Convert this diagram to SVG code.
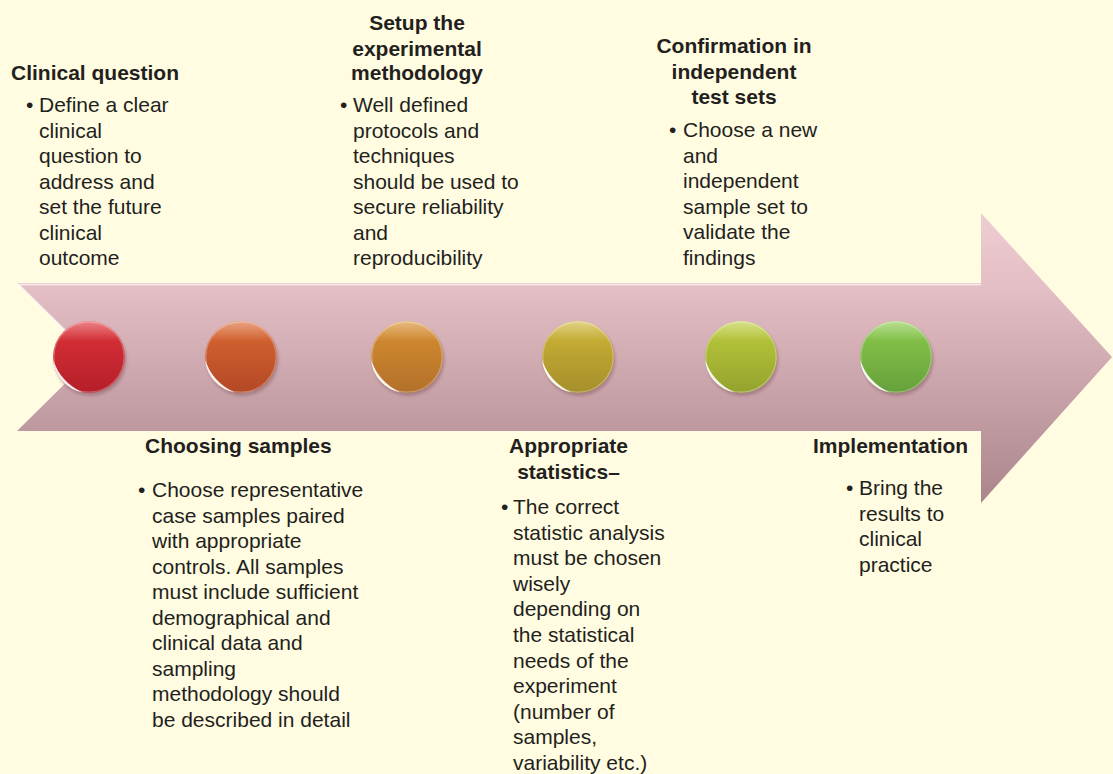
<svg xmlns="http://www.w3.org/2000/svg" xmlns:xlink="http://www.w3.org/1999/xlink" width="1113" height="774" viewBox="0 0 1113 774">
<style>
.h{font-family:"Liberation Sans",Arial,Helvetica,sans-serif;font-weight:bold;font-size:21px;fill:#231F20}
.t{font-family:"Liberation Sans",Arial,Helvetica,sans-serif;font-size:21px;fill:#231F20}
.c{text-anchor:middle}
.shadow{fill:#6e3f4a;opacity:0.35}
</style>
<defs>
<linearGradient id="arrowFill" gradientUnits="userSpaceOnUse" x1="0" y1="213" x2="0" y2="503">
<stop offset="0" stop-color="#EECDD2"/>
<stop offset="0.25" stop-color="#E4BFC5"/>
<stop offset="0.75" stop-color="#BE989F"/>
<stop offset="1" stop-color="#AC858C"/>
</linearGradient>
<linearGradient id="g1" x1="0" y1="0" x2="0" y2="1"><stop offset="0" stop-color="#DD3338"/><stop offset="1" stop-color="#B41E2A"/></linearGradient>
<linearGradient id="g2" x1="0" y1="0" x2="0" y2="1"><stop offset="0" stop-color="#DA6832"/><stop offset="1" stop-color="#B34826"/></linearGradient>
<linearGradient id="g3" x1="0" y1="0" x2="0" y2="1"><stop offset="0" stop-color="#D88F30"/><stop offset="1" stop-color="#B2702A"/></linearGradient>
<linearGradient id="g4" x1="0" y1="0" x2="0" y2="1"><stop offset="0" stop-color="#CDB536"/><stop offset="1" stop-color="#A68E2B"/></linearGradient>
<linearGradient id="g5" x1="0" y1="0" x2="0" y2="1"><stop offset="0" stop-color="#BDCC3C"/><stop offset="1" stop-color="#94A22E"/></linearGradient>
<linearGradient id="g6" x1="0" y1="0" x2="0" y2="1"><stop offset="0" stop-color="#8ACA4C"/><stop offset="1" stop-color="#66A03B"/></linearGradient>
<linearGradient id="shine" x1="0" y1="0" x2="0" y2="1">
<stop offset="0" stop-color="#fff" stop-opacity="0.4"/>
<stop offset="0.28" stop-color="#fff" stop-opacity="0"/>
</linearGradient>
<filter id="blur" x="-20%" y="-20%" width="140%" height="140%"><feGaussianBlur stdDeviation="1.6"/></filter>
<filter id="soft" x="-20%" y="-20%" width="140%" height="140%"><feGaussianBlur stdDeviation="0.5"/></filter>
<g id="gloss">
<circle r="36" fill="url(#shine)"/>
<circle r="35.2" fill="none" stroke="#fff" stroke-opacity="0.3" stroke-width="1.2"/>
<path d="M -35.9 3.1 A 36 36 0 0 0 -6.25 35.5 A 55 55 0 0 1 -35.9 3.1 Z" fill="#fff" opacity="0.9" filter="url(#soft)"/>
</g>
</defs>
<rect width="1113" height="774" fill="#FFFCE1"/>
<g id="connectors">
<path id="timeline-arrow" d="M17 283 L981 283 L981 213 L1112 357 L981 503 L981 431 L17 431 L92 357 Z" fill="url(#arrowFill)"/>
<path d="M17 284.5 L981 284.5 M18 284 L92 357" stroke="#fff" stroke-opacity="0.6" stroke-width="2" fill="none"/>
</g>
<g id="step-1" transform="translate(89,357)">
<circle class="shadow" cx="1.5" cy="3" r="36" filter="url(#blur)"/>
<circle r="36" fill="url(#g1)"/>
<use xlink:href="#gloss" href="#gloss"/>
</g>
<g id="step-2" transform="translate(241,357)">
<circle class="shadow" cx="1.5" cy="3" r="36" filter="url(#blur)"/>
<circle r="36" fill="url(#g2)"/>
<use xlink:href="#gloss" href="#gloss"/>
</g>
<g id="step-3" transform="translate(407,357)">
<circle class="shadow" cx="1.5" cy="3" r="36" filter="url(#blur)"/>
<circle r="36" fill="url(#g3)"/>
<use xlink:href="#gloss" href="#gloss"/>
</g>
<g id="step-4" transform="translate(578,357)">
<circle class="shadow" cx="1.5" cy="3" r="36" filter="url(#blur)"/>
<circle r="36" fill="url(#g4)"/>
<use xlink:href="#gloss" href="#gloss"/>
</g>
<g id="step-5" transform="translate(741,357)">
<circle class="shadow" cx="1.5" cy="3" r="36" filter="url(#blur)"/>
<circle r="36" fill="url(#g5)"/>
<use xlink:href="#gloss" href="#gloss"/>
</g>
<g id="step-6" transform="translate(896,357)">
<circle class="shadow" cx="1.5" cy="3" r="36" filter="url(#blur)"/>
<circle r="36" fill="url(#g6)"/>
<use xlink:href="#gloss" href="#gloss"/>
</g>
<g id="label-clinical-question">
<text class="h" x="11" y="80">Clinical question</text>
<text class="t" x="26" y="112">•</text>
<text class="t"><tspan x="39" y="112">Define a clear</tspan><tspan x="39" y="137.5">clinical</tspan><tspan x="39" y="163">question to</tspan><tspan x="39" y="188.5">address and</tspan><tspan x="39" y="214">set the future</tspan><tspan x="39" y="239.5">clinical</tspan><tspan x="39" y="265">outcome</tspan></text>
</g>
<g id="label-setup">
<text class="h c"><tspan x="417" y="30">Setup the</tspan><tspan x="417" y="55.5">experimental</tspan><tspan x="417" y="80">methodology</tspan></text>
<text class="t" x="340" y="112">•</text>
<text class="t"><tspan x="353" y="112">Well defined</tspan><tspan x="353" y="137.5">protocols and</tspan><tspan x="353" y="163">techniques</tspan><tspan x="353" y="188.5">should be used to</tspan><tspan x="353" y="214">secure reliability</tspan><tspan x="353" y="239.5">and</tspan><tspan x="353" y="265">reproducibility</tspan></text>
</g>
<g id="label-confirmation">
<text class="h c"><tspan x="734" y="53">Confirmation in</tspan><tspan x="734" y="79">independent</tspan><tspan x="734" y="104">test sets</tspan></text>
<text class="t" x="669" y="137">•</text>
<text class="t"><tspan x="683" y="137">Choose a new</tspan><tspan x="683" y="162.6">and</tspan><tspan x="683" y="188.2">independent</tspan><tspan x="683" y="213.8">sample set to</tspan><tspan x="683" y="239.4">validate the</tspan><tspan x="683" y="265">findings</tspan></text>
</g>
<g id="label-choosing-samples">
<text class="h" x="145" y="453">Choosing samples</text>
<text class="t" x="138" y="497">•</text>
<text class="t"><tspan x="152" y="497">Choose representative</tspan><tspan x="152" y="522.5">case samples paired</tspan><tspan x="152" y="548">with appropriate</tspan><tspan x="152" y="573.5">controls. All samples</tspan><tspan x="152" y="599">must include sufficient</tspan><tspan x="152" y="624.5">demographical and</tspan><tspan x="152" y="650">clinical data and</tspan><tspan x="152" y="675.5">sampling</tspan><tspan x="152" y="701">methodology should</tspan><tspan x="152" y="726.5">be described in detail</tspan></text>
</g>
<g id="label-statistics">
<text class="h c"><tspan x="568.5" y="453">Appropriate</tspan><tspan x="568.5" y="479">statistics–</tspan></text>
<text class="t" x="501" y="514">•</text>
<text class="t"><tspan x="513" y="514">The correct</tspan><tspan x="513" y="539.6">statistic analysis</tspan><tspan x="513" y="565.2">must be chosen</tspan><tspan x="513" y="590.8">wisely</tspan><tspan x="513" y="616.4">depending on</tspan><tspan x="513" y="642">the statistical</tspan><tspan x="513" y="667.6">needs of the</tspan><tspan x="513" y="693.2">experiment</tspan><tspan x="513" y="718.8">(number of</tspan><tspan x="513" y="744.4">samples,</tspan><tspan x="513" y="770">variability etc.)</tspan></text>
</g>
<g id="label-implementation">
<text class="h" x="813" y="453">Implementation</text>
<text class="t" x="846" y="495">•</text>
<text class="t"><tspan x="859" y="495">Bring the</tspan><tspan x="859" y="520.6">results to</tspan><tspan x="859" y="546.2">clinical</tspan><tspan x="859" y="571.8">practice</tspan></text>
</g>
</svg>
